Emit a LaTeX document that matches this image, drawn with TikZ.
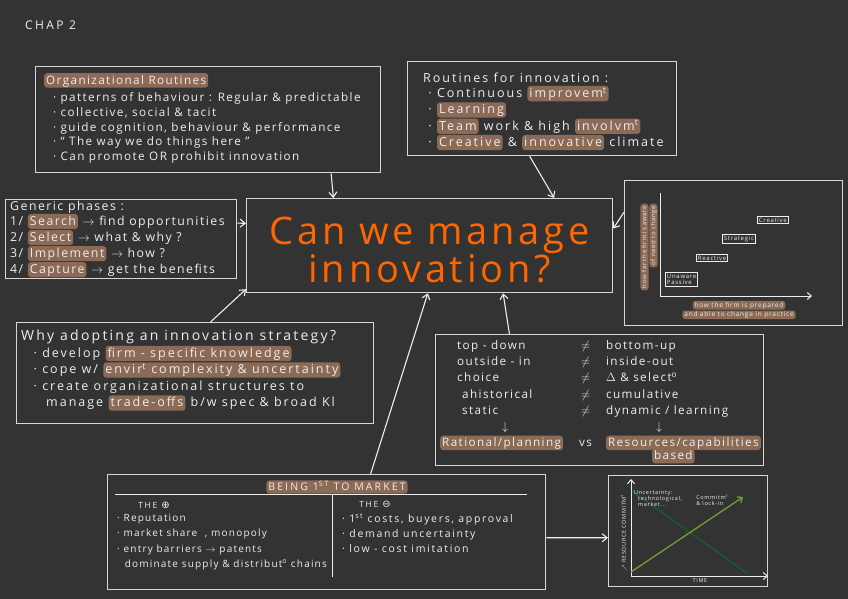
\documentclass[tikz,border=0pt]{standalone}
\usepackage{fontspec}
\usepackage{amssymb}
\setmainfont{Open Sans}
\newfontfamily\handfont{Open Sans}[LetterSpace=12]
\newfontfamily\widehandfont{Open Sans}[LetterSpace=16]
\newfontfamily\capsfont{Open Sans}[LetterSpace=20]
\newfontfamily\bigfont{Open Sans}[LetterSpace=10]
\newfontfamily\symfont{DejaVu Sans}
\usetikzlibrary{arrows.meta, positioning, calc}
\definecolor{boardgray}{RGB}{51,51,51}
\definecolor{framegray}{RGB}{215,215,215}
\definecolor{chalk}{RGB}{238,238,238}
\definecolor{hlbrown}{RGB}{139,106,86}
\definecolor{titleorange}{RGB}{255,102,0}
\definecolor{darkgreen}{RGB}{22,92,62}
\definecolor{lightgreen}{RGB}{112,162,44}
\newcommand{\hand}{\handfont\fontsize{11.7}{14.7}\selectfont}
\newcommand{\tinyhand}{\handfont\fontsize{5.5}{6}\selectfont}
\newcommand{\hl}[1]{\tikz[baseline=(hlw.base)]\node[hlbox](hlw){#1};}
\newcommand{\up}[1]{\textsuperscript{#1}}

\begin{document}
\begin{tikzpicture}[x=1pt, y=-1pt,
    box/.style={draw=framegray, line width=1.3pt, inner sep=0pt, anchor=north west},
    txt/.style={inner sep=0pt, align=left, text=chalk, font=\hand},
    hlbox/.style={fill=hlbrown, rounded corners=3pt, inner xsep=2pt, inner ysep=0.8pt, text height=1.6ex, text depth=0.45ex, text=chalk},
    arrow/.style={draw=chalk, line width=1.1pt, -{Straight Barb[length=5pt, width=8pt]}},
    lvl/.style={draw=chalk, line width=0.9pt, inner sep=1.5pt, font=\handfont\fontsize{6}{6.5}\selectfont, text=chalk, align=left, anchor=north west}
]
\fill[boardgray] (0,0) rectangle (848,599);
\useasboundingbox (0,0) rectangle (848,599);

% Title
\node (chap) [txt, anchor=west, font=\capsfont\fontsize{12}{14}\selectfont] at (25,25) {CHAP 2};

% Boxes
\node (central) [box, minimum width=366pt, minimum height=94pt] at (246,198) {};
\node (orgbox) [box, minimum width=345pt, minimum height=106pt] at (35,66) {};
\node (routbox) [box, minimum width=269pt, minimum height=94pt] at (407,61) {};
\node (phasebox) [box, minimum width=231pt, minimum height=79pt] at (5,199) {};
\node (whybox) [box, minimum width=357pt, minimum height=101pt] at (16,322) {};
\node (contrastbox) [box, minimum width=328pt, minimum height=131pt] at (435,334) {};
\node (firstbox) [box, minimum width=438pt, minimum height=115pt] at (107,474) {};
\node (awarebox) [box, minimum width=218pt, minimum height=145pt] at (624,180) {};
\node (timebox) [box, minimum width=159pt, minimum height=111pt] at (608,475) {};

% Central question
\node (question) [inner sep=0pt, align=center, text=titleorange, font=\bigfont\fontsize{38}{36}\selectfont] at ([yshift=-4pt]central.center) {Can we manage\\innovation?};

% Texts
\node (orgtext) [txt, below right=7pt and 9pt of orgbox.north west] {\hl{Organizational Routines}\\[3pt]
  \ \ · patterns of behaviour : Regular \& predictable\\
  \ \ · collective, social \& tacit\\
  \ \ · guide cognition, behaviour \& performance\\
  \ \ · “ The way we do things here ”\\
  \ \ · Can promote OR prohibit innovation};

\node (routtext) [txt, font=\widehandfont\fontsize{12.5}{14.7}\selectfont, below right=12pt and 16pt of routbox.north west] {Routines for innovation :\\
  \ · Continuous \hl{improvem\up{t}}\\
  \ · \hl{Learning}\\
  \ · \hl{Team} work \& high \hl{involvm\up{t}}\\
  \ · \hl{Creative} \& \hl{innovative} climate};

\node (phasetext) [txt, font=\handfont\fontsize{12.3}{14.7}\selectfont, below right=2pt and 5pt of phasebox.north west] {Generic phases :\\
  1/ \hl{Search} $\rightarrow$ find opportunities\\
  2/ \hl{Select} $\rightarrow$ what \& why ?\\
  3/ \hl{Implement} $\rightarrow$ how ?\\
  4/ \hl{Capture} $\rightarrow$ get the benefits};

\node (whytext) [txt, font=\widehandfont\fontsize{12.5}{16.5}\selectfont, below right=8pt and 5pt of whybox.north west] {{\fontsize{14}{16.5}\selectfont Why adopting an innovation strategy?}\\
  \quad· develop \hl{firm - specific knowledge}\\
  \quad· cope w/ \hl{envir\up{t} complexity \& uncertainty}\\
  \quad· create organizational structures to\\
  \quad\quad manage \hl{trade-offs} b/w spec \& broad Kl};

\node (contrasttext) [txt, below right=4pt and 5pt of contrastbox.north west] {\renewcommand{\arraystretch}{1.1}%
  \begin{tabular}{@{}p{127pt}c@{\hspace{14pt}}l@{}}
  \hspace{17pt}top - down & $\neq$ & bottom-up\\
  \hspace{17pt}outside - in & $\neq$ & inside-out\\
  \hspace{17pt}choice & $\neq$ & $\Delta$ \& select\up{o}\\
  \hspace{22pt}ahistorical & $\neq$ & cumulative\\
  \hspace{22pt}static & $\neq$ & dynamic / learning\\
  \hspace{62pt}$\downarrow$ & & \hspace{50pt}$\downarrow$\\
  \hl{Rational/planning} & vs & \hl{Resources/capabilities}\\[-3pt]
  & & \hspace{46pt}\hl{based}
  \end{tabular}};

% Being first to market
\node (firsttitle) [txt, font=\capsfont\fontsize{10.5}{12}\selectfont] at (337,487) {\hl{BEING 1\up{ST} TO MARKET}};
\draw[chalk, line width=1pt] (115,494) -- (527,494);
\draw[chalk, line width=1pt] (332,494) -- (332,577);
\node (plushead) [txt, font=\capsfont\fontsize{8.5}{10}\selectfont] at (154,505) {THE {\symfont\fontsize{10}{10}\selectfont ⊕}};
\node (minushead) [txt, font=\capsfont\fontsize{8.5}{10}\selectfont] at (375,504) {THE {\symfont\fontsize{10}{10}\selectfont ⊖}};
\node (prolist) [txt, font=\handfont\fontsize{10}{15.3}\selectfont, anchor=north west] at (117,514) {· Reputation\\
  · market share \ , monopoly\\
  · entry barriers $\rightarrow$ patents\\
  \ \ dominate supply \& distribut\up{o} chains};
\node (conlist) [txt, font=\widehandfont\fontsize{10.5}{15.3}\selectfont, anchor=north west] at (342,513) {· 1\up{st} costs, buyers, approval\\
  · demand uncertainty\\
  · low - cost imitation};

% Awareness plot
\draw[chalk, line width=1pt, -{Straight Barb[length=4pt, width=7pt]}] (660,193) -- (660,296) -- (812,296);
\node (unaware) [lvl] at (665,272) {Unaware\\Passive};
\node (reactive) [lvl] at (696,254) {Reactive};
\node (strategic) [lvl] at (722,234) {Strategic};
\node (creative) [lvl] at (757,216) {Creative};
\node (awarelbl) [rotate=90, align=right, inner sep=0pt, text=chalk, font=\handfont\fontsize{6}{9}\selectfont] at (649,247) {\hl{how far the firm is aware}\\\hl{of need to change}};
\node (preparedlbl) [align=center, inner sep=0pt, text=chalk, font=\handfont\fontsize{6.5}{8}\selectfont] at (739,310) {\hl{how the firm is prepared}\\\hl{and able to change in practice}};

% Commitment plot
\draw[chalk, line width=1pt, {Straight Barb[length=4pt, width=7pt]}-{Straight Barb[length=4pt, width=7pt]}] (631,479) -- (631,576) -- (768,576);
\draw[darkgreen, line width=1.3pt] (632,491) -- (748,574);
\draw[lightgreen, line width=1.3pt, -{Straight Barb[length=4pt, width=7pt]}] (631,572) -- (743,497);
\node (uncertlbl) [txt, font=\tinyhand] at (658,499) {Uncertainty:\\\ \ technological,\\\ \ market...};
\node (commitlbl) [txt, font=\tinyhand] at (712,500) {Commitm\up{t}\\\& lock-in};
\node (resourcelbl) [txt, rotate=90, font=\tinyhand] at (624,533) {$\nearrow$ RESOURCE COMMITM\up{T}};
\node (timelbl) [txt, font=\tinyhand] at (700,581) {TIME};

% Arrows
\draw [arrow] ($(orgbox.south west)!0.855!(orgbox.south east)$) -- ($(central.north west)!0.238!(central.north east)$);
\draw [arrow] ($(routbox.south west)!0.454!(routbox.south east)$) -- ($(central.north west)!0.839!(central.north east)$);
\draw [arrow] ($(phasebox.north east)!0.30!(phasebox.south east)$) -- ($(central.north west)!0.266!(central.south west)$);
\draw [arrow] ($(awarebox.north west)!0.22!(awarebox.south west)$) -- ($(central.north east)!0.32!(central.south east)$);
\draw [arrow] ($(whybox.north west)!0.543!(whybox.north east)$) -- ($(central.north west)!0.957!(central.south west)$);
\draw [arrow] ($(contrastbox.north west)!0.226!(contrastbox.north east)$) -- ($(central.south west)!0.70!(central.south east)$);
\draw [arrow] ($(firstbox.north west)!0.60!(firstbox.north east)$) -- ($(central.south west)!0.495!(central.south east)$);
\draw [arrow] ($(firstbox.north east)!0.548!(firstbox.south east)$) -- ($(timebox.north west)!0.559!(timebox.south west)$);

\end{tikzpicture}
\end{document}
